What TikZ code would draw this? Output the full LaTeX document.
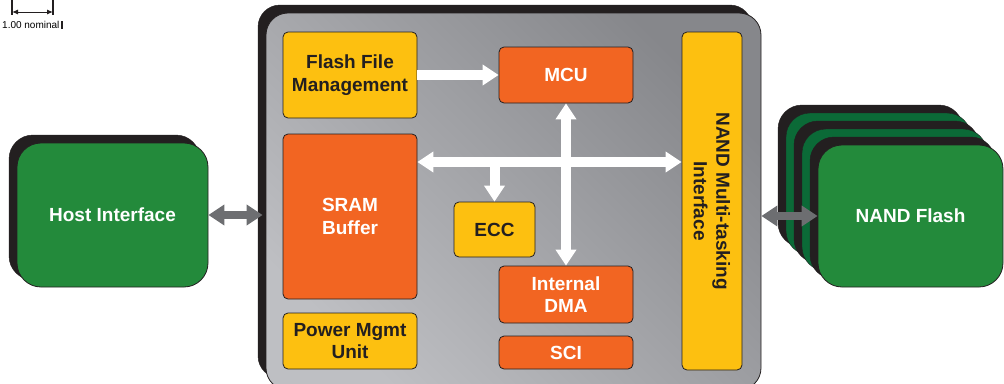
\documentclass[tikz,border=0pt]{standalone}
\usepackage{fontspec}
\setmainfont{Liberation Sans}
\usetikzlibrary{arrows.meta}
\definecolor{ssdorange}{HTML}{F26522}
\definecolor{ssdyellow}{HTML}{FDC010}
\definecolor{ssdgreen}{HTML}{238A3B}
\definecolor{ssddkgreen}{HTML}{0B6A37}
\definecolor{ssdblack}{HTML}{231F20}
\definecolor{ssdarrow}{HTML}{6D6E71}
\definecolor{chipdark}{HTML}{86878B}
\definecolor{chiplight}{HTML}{BEBFC3}
\tikzset{
	blk/.style={draw=ssdblack, line width=0.8pt, rounded corners=5pt, inner sep=0pt, align=center, font=\fontsize{19}{22.5}\selectfont\bfseries},
	obox/.style={blk, fill=ssdorange, text=white},
	ybox/.style={blk, fill=ssdyellow, text=ssdblack},
	gbox/.style={blk, fill=ssdgreen, text=white, rounded corners=24pt},
	ssdtip/.tip={Triangle[length=16pt,width=20pt]},
	wharrow/.style={draw=white, line width=10pt, -ssdtip},
	wharrows/.style={draw=white, line width=10pt, ssdtip-ssdtip},
	gyarrows/.style={draw=ssdarrow, line width=8pt, ssdtip-ssdtip},
}
\begin{document}
\begin{tikzpicture}[x=1pt, y=-1pt]
		\useasboundingbox (0,0) rectangle (1004,383);
		
		\coordinate (sbl) at (12,12);
		\coordinate (sbr) at (53,12);
		\draw[ssdblack, line width=1.5pt] (12,0) -- (12,15) (53,0) -- (53,15);
		\draw[ssdblack, line width=1pt, {Latex[length=6pt,width=5pt]}-{Latex[length=6pt,width=5pt]}] (sbl) -- (sbr);
		\node[font=\fontsize{10}{12}\selectfont, inner sep=0pt, anchor=base west] (nominal) at (2,28.5) {1.00 nominal};
		\fill[ssdblack] (nominal.east) ++(1,-4) rectangle ++(2,8);
		
		\filldraw[ssdblack, rounded corners=24pt] (9,135) rectangle (200,280);
		\node[gbox, minimum width=191pt, minimum height=144pt] (host) at (112.5,215) {Host Interface};
		
		\filldraw[ssdblack, rounded corners=22pt] (258,5) rectangle (752,378);
		\node[draw=ssdblack, line width=0.8pt, rounded corners=22pt, top color=chipdark, bottom color=chiplight, shading angle=-45, minimum width=495pt, minimum height=377pt] (chip) at (513.5,201.5) {};
		
		\foreach \k in {2,1}{
			\filldraw[ssdblack, rounded corners=24pt] (810-16*\k, 137-16*\k) rectangle +(185,142);
			\filldraw[fill=ssddkgreen, draw=ssdblack, rounded corners=24pt] (818-16*\k, 145-16*\k) rectangle +(185,142);
		}
		\filldraw[ssdblack, rounded corners=24pt] (810,137) rectangle +(185,142);
		\node[gbox, minimum width=185pt, minimum height=142pt] (nf) at (910.5,216) {NAND Flash};
		
		\node[ybox, minimum width=134pt, minimum height=86pt] (ffm) at (350,75) {Flash File\\Management};
		\node[obox, minimum width=134pt, minimum height=56pt] (mcu) at (566,75) {MCU};
		\node[ybox, rotate=-90, minimum width=338pt, minimum height=60pt] (nif) at (712,201) {NAND Multi-tasking\\Interface};
		\node[obox, minimum width=134pt, minimum height=165pt] (sram) at (350,216.5) {SRAM\\Buffer};
		\node[ybox, minimum width=81pt, minimum height=55pt] (ecc) at (494.5,229.5) {ECC};
		\node[obox, minimum width=134pt, minimum height=57pt] (dma) at (566,294.5) {Internal\\DMA};
		\node[obox, minimum width=134pt, minimum height=33pt] (sci) at (566,352.5) {SCI};
		\node[ybox, minimum width=134pt, minimum height=56pt] (pmu) at (350,341) {Power Mgmt\\Unit};
		
		\coordinate (bus) at (566,162);
		\draw[wharrow] (ffm.east) -- (mcu.west);
		\draw[wharrows] (sram.east |- bus) -- (nif.south |- bus);
		\draw[wharrows] (mcu.south) -- (dma.north);
		\draw[wharrow] (ecc.north |- bus) -- (ecc.north);
		
		\draw[gyarrows, shorten >=3pt] (host.east) -- (chip.west |- host.east);
		\draw[gyarrows] (chip.east |- nf.west) -- (nf.west);
	\end{tikzpicture}
\end{document}
